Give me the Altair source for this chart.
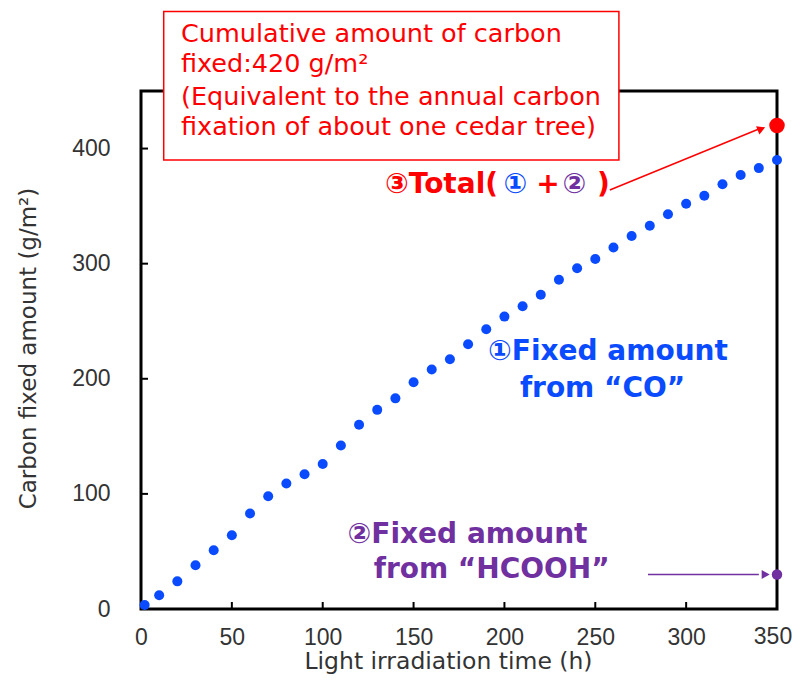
import altair as alt
import pandas as pd

# ---------------- data ----------------
hours = [2, 10, 20, 30, 40, 50, 60, 70, 80, 90, 100, 110, 120, 130, 140, 150, 160, 170,
         180, 190, 200, 210, 220, 230, 240, 250, 260, 270, 280, 290, 300, 310, 320, 330,
         340, 350]
co_fixed = [3.5, 12, 24, 38, 51, 64, 83, 98, 109, 117, 126, 142, 160, 173, 183, 197, 208, 217,
            230, 243, 254, 263, 273, 286, 296, 304, 314, 324, 333, 343, 352, 359, 369, 377,
            383, 390]
total_hours = [350]
total_fixed = [420]
hcooh_hours = [350]
hcooh_fixed = [30]

x_ticks = [0, 50, 100, 150, 200, 250, 300, 350]
y_ticks = [0, 100, 200, 300, 400]

box_lines = ["Cumulative amount of carbon",
             "fixed:420 g/m²",
             "(Equivalent to the annual carbon",
             "fixation of about one cedar tree)"]

BLUE = "#0A4BFF"
RED = "#FF0000"
PURPLE = "#7030A0"
AX_FONT = "Liberation Sans"
AN_FONT = "DejaVu Sans"
LBL_COLOR = "#333333"
LBL_SIZE = 23

W, H = 636, 518
xs = alt.Scale(domain=[0, 350], nice=False, zero=False)
ys = alt.Scale(domain=[0, 450], nice=False, zero=False)

x_axis = alt.Axis(values=x_ticks, title="Light irradiation time (h)", grid=False, domain=False,
                  ticks=False, tickSize=0, labelFont=AX_FONT, labelFontSize=LBL_SIZE,
                  labelColor=LBL_COLOR, labelPadding=28, labelBaseline="middle",
                  labelFlush=False, labelOverlap=False,
                  labelExpr=f"datum.value == {x_ticks[-1]} ? '' : datum.label",
                  titleFont=AN_FONT, titleFontSize=23.5, titleFontWeight="normal",
                  titleColor=LBL_COLOR, titleX=307, titleY=59, titleBaseline="alphabetic")
y_axis = alt.Axis(values=y_ticks, title="Carbon fixed amount (g/m²)", grid=False, domain=False,
                  ticks=False, tickSize=0, labelFont=AX_FONT, labelFontSize=LBL_SIZE,
                  labelColor=LBL_COLOR, labelPadding=31, labelOverlap=False,
                  titleFont=AN_FONT, titleFontSize=23, titleFontWeight="normal",
                  titleColor=LBL_COLOR, titleX=-113, titleY=H / 2 - 2, titleBaseline="middle",
                  titleAngle=270)


def X(field="t"):
    return alt.X(f"{field}:Q", scale=xs, axis=x_axis)


def Y(field="c"):
    return alt.Y(f"{field}:Q", scale=ys, axis=y_axis)


co_df = pd.DataFrame({"t": hours, "c": co_fixed})
total_df = pd.DataFrame({"t": total_hours, "c": total_fixed})
hcooh_df = pd.DataFrame({"t": hcooh_hours, "c": hcooh_fixed})

co_pts = alt.Chart(co_df).mark_circle(size=100, color=BLUE, opacity=1).encode(x=X(), y=Y())
total_pt = alt.Chart(total_df).mark_circle(size=240, color=RED, opacity=1).encode(x=X(), y=Y())
hcooh_pt = alt.Chart(hcooh_df).mark_circle(size=110, color=PURPLE, opacity=1).encode(x=X(), y=Y())

# last x tick label drawn separately (nudged so it stays inside the page)
last_lbl = alt.Chart(pd.DataFrame({"t": x_ticks[-1:], "label": [str(x_ticks[-1])]})).mark_text(
    align="center", baseline="middle", font=AX_FONT, fontSize=LBL_SIZE, color=LBL_COLOR,
    dx=-4).encode(x=X(), y=alt.value(H + 28), text="label:N")

# inward ticks
xt = alt.Chart(pd.DataFrame({"t": x_ticks[1:-1]})).mark_rule(color="black", strokeWidth=2).encode(
    x=X(), y=alt.value(H), y2=alt.value(H - 7))
yt = alt.Chart(pd.DataFrame({"c": y_ticks[1:]})).mark_rule(color="black", strokeWidth=2).encode(
    y=Y(), x=alt.value(0), x2=alt.value(7))

# annotation box
box = alt.Chart(pd.DataFrame({"t": [12.5], "t2": [263], "c": [390], "c2": [519]})).mark_rect(
    fill="white", stroke=RED, strokeWidth=1.5).encode(x=X(), x2="t2:Q", y=Y(), y2="c2:Q")
box_df = pd.DataFrame({"t": [22] * 4, "c": [499.5, 473.5, 444.8, 418.8], "label": box_lines})
box_txt = alt.Chart(box_df).mark_text(align="left", baseline="middle", font=AN_FONT, fontSize=25.5,
                                      color=RED).encode(x=X(), y=Y(), text="label:N")

# Total label (multi-colour)
tot_parts = pd.DataFrame({
    "t": [134.3, 199.5, 217.5, 232.0, 251.0],
    "c": [368.4] * 5,
    "label": ["③Total(", "①", "+", "②", ")"],
    "col": [RED, BLUE, RED, PURPLE, RED],
})
tot_txt = alt.Chart(tot_parts).mark_text(align="left", baseline="middle", font=AN_FONT,
                                         fontSize=28, fontWeight="bold").encode(
    x=X(), y=Y(), text="label:N", color=alt.Color("col:N", scale=None))

co_lbl = alt.Chart(pd.DataFrame({"t": [257, 254], "c": [223.3, 191], "label": ["①Fixed amount", "from “CO”"]})
                   ).mark_text(align="center", baseline="middle", font=AN_FONT, fontSize=28,
                               fontWeight="bold", color=BLUE).encode(x=X(), y=Y(), text="label:N")
hc_lbl = alt.Chart(pd.DataFrame({"t": [179.7, 193], "c": [64.3, 33.9], "label": ["②Fixed amount", "from “HCOOH”"]})
                   ).mark_text(align="center", baseline="middle", font=AN_FONT, fontSize=28,
                               fontWeight="bold", color=PURPLE).encode(x=X(), y=Y(), text="label:N")

# arrows
red_line = alt.Chart(pd.DataFrame({"t": [258], "c": [364], "t2": [340], "c2": [417]})).mark_rule(
    color=RED, strokeWidth=1.5).encode(x=X(), y=Y(), x2="t2:Q", y2="c2:Q")
HEAD = "M0,0L-1,-0.55L-1,0.55Z"
red_head = alt.Chart(pd.DataFrame({"t": [343.5], "c": [418.5]})).mark_point(
    shape=HEAD, filled=True, fill=RED, stroke=RED, strokeWidth=0, size=260, angle=337.6,
    opacity=1).encode(x=X(), y=Y())
pur_line = alt.Chart(pd.DataFrame({"t": [279], "c": [30], "t2": [340], "c2": [30]})).mark_rule(
    color=PURPLE, strokeWidth=1.5).encode(x=X(), y=Y(), x2="t2:Q", y2="c2:Q")
pur_head = alt.Chart(pd.DataFrame({"t": [346], "c": [30]})).mark_point(
    shape=HEAD, filled=True, fill=PURPLE, stroke=PURPLE, strokeWidth=0, size=260, angle=0,
    opacity=1).encode(x=X(), y=Y())

chart = alt.layer(
    co_pts, xt, yt, red_line, red_head, pur_line, pur_head, total_pt, hcooh_pt,
    box, box_txt, tot_txt, co_lbl, hc_lbl, last_lbl
).properties(
    width=W, height=H,
    autosize=alt.AutoSizeParams(type="none"),
    padding={"left": 133, "top": 83, "right": 16, "bottom": 67},
    background="white",
).configure_view(stroke="black", strokeWidth=3)

chart.save("out.html", embed_options={"renderer": "svg", "actions": False})
